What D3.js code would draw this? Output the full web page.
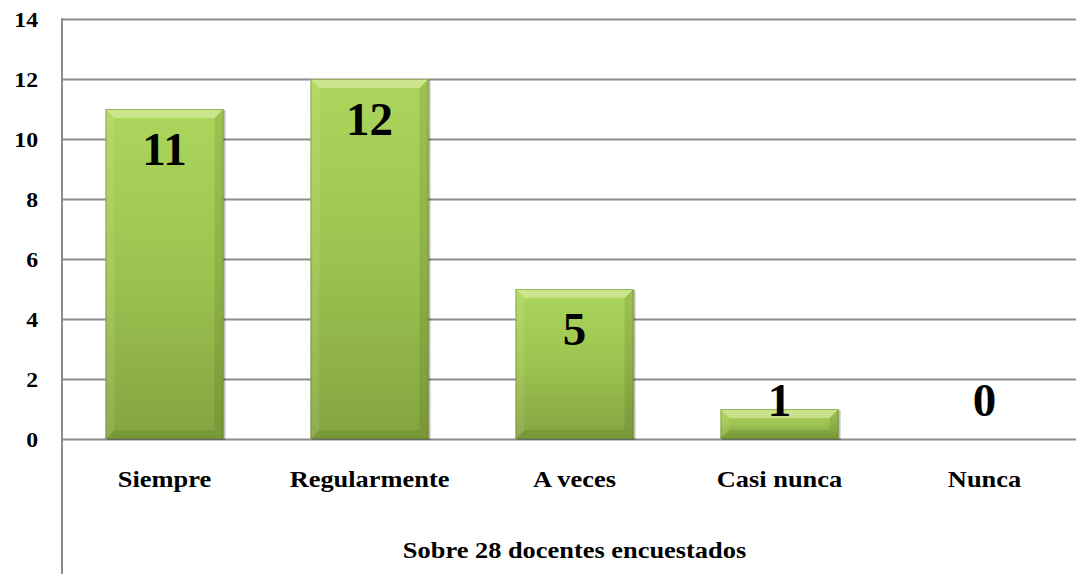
<!DOCTYPE html>
<html>
<head>
<meta charset="utf-8">
<script src="https://cdn.jsdelivr.net/npm/d3@7"></script>
<style>
  body { margin: 0; background: #fff; }
  svg { display: block; }
</style>
</head>
<body>
<svg id="chart"></svg>
<script>
const categories = ['Siempre', 'Regularmente', 'A veces', 'Casi nunca', 'Nunca'];
const values = [11, 12, 5, 1, 0];
const yTicks = [0, 2, 4, 6, 8, 10, 12, 14];
const axisTitle = 'Sobre 28 docentes encuestados';

const width = 1076;
const height = 574;
const plotLeft = 62;
const plotRight = 1087; // plot area runs past the right edge of the picture
const plotTop = 19;
const plotBottom = 439;
const gridColor = '#8c8c8c';
const serif = '"Liberation Serif", "Times New Roman", Times, serif';

const svg = d3.select('#chart').attr('width', width).attr('height', height);

const x = d3.scaleBand()
  .domain(categories)
  .range([plotLeft, plotRight])
  .paddingInner(0.424)
  .paddingOuter(0.212);

const y = d3.scaleLinear()
  .domain([0, 14])
  .range([plotBottom, plotTop]);

const defs = svg.append('defs');
const grad = defs.append('linearGradient')
  .attr('id', 'barGrad')
  .attr('x1', 0).attr('y1', 0).attr('x2', 0).attr('y2', 1);
grad.append('stop').attr('offset', '0%').attr('stop-color', '#acd65c');
grad.append('stop').attr('offset', '50%').attr('stop-color', '#9cc350');
grad.append('stop').attr('offset', '100%').attr('stop-color', '#84a441');

// grid lines + y labels
const yAxis = svg.append('g')
  .attr('transform', `translate(${plotLeft},0)`)
  .call(d3.axisLeft(y).tickValues(yTicks).tickSize(-(plotRight - plotLeft)).tickPadding(24));
yAxis.select('.domain').remove();
yAxis.selectAll('.tick line').attr('stroke', gridColor).attr('stroke-width', 2);
yAxis.selectAll('.tick text')
  .style('font-family', serif)
  .style('font-weight', 'bold')
  .style('font-size', '22px')
  .attr('fill', '#000')
  .attr('transform', 'scale(1.08,1)')
  .attr('x', -24 / 1.08);

// left vertical axis line down to the bottom of the chart
svg.append('line')
  .attr('x1', plotLeft).attr('x2', plotLeft)
  .attr('y1', plotTop - 1).attr('y2', height)
  .attr('stroke', gridColor).attr('stroke-width', 2);

// bars
const bevel = 9;
const bars = svg.append('g').selectAll('g.bar')
  .data(values.map((v, i) => ({ cat: categories[i], val: v })).filter(d => d.val > 0))
  .join('g')
  .attr('class', 'bar');

bars.append('rect')
  .attr('x', d => x(d.cat) + 2)
  .attr('y', d => y(d.val) + 1)
  .attr('width', x.bandwidth())
  .attr('height', d => y(0) - y(d.val))
  .attr('fill', 'rgba(0,0,0,0.25)');

bars.append('rect')
  .attr('x', d => x(d.cat))
  .attr('y', d => y(d.val))
  .attr('width', x.bandwidth())
  .attr('height', d => y(0) - y(d.val))
  .attr('fill', 'url(#barGrad)');

function bevelPts(d, side) {
  const x0 = x(d.cat), x1 = x0 + x.bandwidth();
  const y0 = y(d.val), y1 = y(0);
  const b = Math.min(bevel, (y1 - y0) / 3);
  if (side === 'top') return [[x0, y0], [x1, y0], [x1 - b, y0 + b], [x0 + b, y0 + b]];
  if (side === 'left') return [[x0, y0], [x0 + b, y0 + b], [x0 + b, y1 - b], [x0, y1]];
  if (side === 'right') return [[x1, y0], [x1, y1], [x1 - b, y1 - b], [x1 - b, y0 + b]];
  return [[x0, y1], [x0 + b, y1 - b], [x1 - b, y1 - b], [x1, y1]];
}
const bevelFill = {
  top: 'rgba(255,255,220,0.38)',
  left: 'rgba(255,255,220,0.1)',
  right: 'rgba(40,60,0,0.12)',
  bottom: 'rgba(40,60,0,0.12)'
};
['top', 'left', 'right', 'bottom'].forEach(side => {
  bars.append('polygon')
    .attr('points', d => bevelPts(d, side).map(p => p.join(',')).join(' '))
    .attr('fill', bevelFill[side]);
});
bars.append('rect')
  .attr('x', d => x(d.cat) + 0.5)
  .attr('y', d => y(d.val) + 0.5)
  .attr('width', x.bandwidth() - 1)
  .attr('height', d => y(0) - y(d.val) - 1)
  .attr('fill', 'none')
  .attr('stroke', 'rgba(90,120,30,0.45)')
  .attr('stroke-width', 1);

// value labels
svg.append('g').selectAll('text')
  .data(values.map((v, i) => ({ cat: categories[i], val: v })))
  .join('text')
  .attr('x', d => x(d.cat) + x.bandwidth() / 2)
  .attr('y', d => Math.min(y(d.val) + 56, y(0) - 23))
  .attr('text-anchor', 'middle')
  .style('font-family', serif)
  .style('font-weight', 'bold')
  .style('font-size', '47px')
  .attr('fill', '#000')
  .text(d => d.val);

// category labels
const xAxis = svg.append('g')
  .attr('transform', `translate(0,${y(0) + 48})`)
  .call(d3.axisBottom(x).tickSize(0).tickPadding(0));
xAxis.select('.domain').remove();
xAxis.selectAll('.tick text')
  .style('font-family', serif)
  .style('font-weight', 'bold')
  .style('font-size', '24px')
  .attr('fill', '#000')
  .attr('dy', 0)
  .attr('transform', 'scale(1.1,1)');

// axis title
svg.append('text')
  .attr('transform', `translate(${(plotLeft + plotRight) / 2},${y(0) + 119}) scale(1.1,1)`)
  .attr('text-anchor', 'middle')
  .style('font-family', serif)
  .style('font-weight', 'bold')
  .style('font-size', '24px')
  .attr('fill', '#000')
  .text(axisTitle);
</script>
</body>
</html>
